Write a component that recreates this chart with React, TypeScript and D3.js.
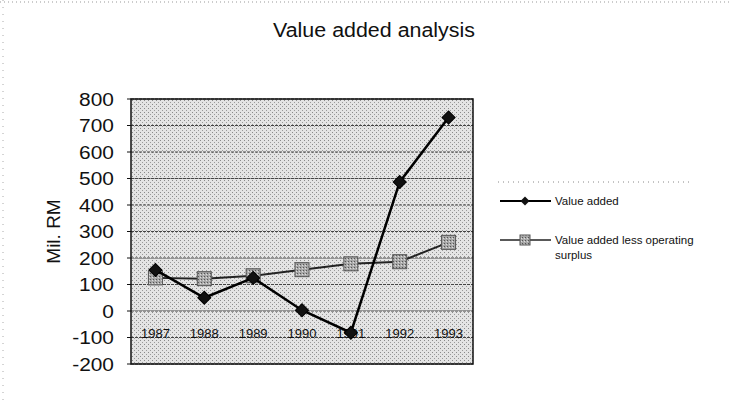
import * as d3 from 'd3'

const years = ['1987', '1988', '1989', '1990', '1991', '1992', '1993']
const valueAdded = [155, 50, 125, 3, -82, 487, 730]
const valueAddedLessSurplus = [125, 122, 133, 156, 178, 186, 259]
const yTicks = [-200, -100, 0, 100, 200, 300, 400, 500, 600, 700, 800]
const seriesNames = ['Value added', 'Value added less operating', 'surplus']

const W = 729
const H = 401
const plot = { left: 131, right: 473, top: 99, bottom: 364 }
const font = '"Liberation Sans", Arial, Helvetica, sans-serif'

const App = () => {
  const x = d3.scaleBand<string>().domain(years).range([plot.left, plot.right])
  const y = d3.scaleLinear().domain([-200, 800]).range([plot.bottom, plot.top])
  const cx = (d: string) => (x(d) ?? 0) + x.bandwidth() / 2

  const line = d3
    .line<number>()
    .x((_, i) => cx(years[i]))
    .y((d) => y(d))

  // diamonds in the original are rotated squares
  const diamond = d3.symbol().type(d3.symbolSquare).size(85)()
  const legendDiamond = d3.symbol().type(d3.symbolSquare).size(40)()
  const labelX = plot.left - 17

  return (
    <div style={{ position: 'absolute', left: 0, top: 0 }}>
      <svg width={W} height={H} style={{ display: 'block', background: '#fff' }}>
        <defs>
          <pattern id="stipple" width="4" height="4" patternUnits="userSpaceOnUse">
            <rect width="4" height="4" fill="#e4e4e4" />
            <rect x="0" y="0" width="1" height="1" fill="#8a8a8a" />
            <rect x="2" y="2" width="1" height="1" fill="#9a9a9a" />
          </pattern>
          <pattern id="squareFill" width="3" height="3" patternUnits="userSpaceOnUse">
            <rect width="3" height="3" fill="#a8a8a8" />
            <rect x="0" y="0" width="1" height="1" fill="#555" />
            <rect x="2" y="1" width="1" height="1" fill="#ddd" />
          </pattern>
        </defs>

        {/* faint scanned frame */}
        <line x1={0} x2={W} y1={2} y2={2} stroke="#999" strokeDasharray="1 3" />
        <line x1={3} x2={3} y1={0} y2={H} stroke="#aaa" strokeDasharray="1 6" />

        <text
          x={273}
          y={37}
          fontFamily={font}
          fontSize={20}
          fill="#111"
          textLength={202}
          lengthAdjust="spacingAndGlyphs"
        >
          Value added analysis
        </text>

        {/* plot area */}
        <rect
          x={plot.left}
          y={plot.top}
          width={plot.right - plot.left}
          height={plot.bottom - plot.top}
          fill="url(#stipple)"
        />
        {yTicks.map((t) => (
          <line
            key={'g' + t}
            x1={plot.left}
            x2={plot.right}
            y1={y(t)}
            y2={y(t)}
            stroke="#444"
            strokeWidth={1}
            strokeDasharray="3 1"
          />
        ))}
        <rect
          x={plot.left}
          y={plot.top}
          width={plot.right - plot.left}
          height={plot.bottom - plot.top}
          fill="none"
          stroke="#111"
          strokeWidth={1.5}
        />

        {/* y axis */}
        {yTicks.map((t) => (
          <g key={'t' + t}>
            <line x1={plot.left - 4} x2={plot.left} y1={y(t)} y2={y(t)} stroke="#111" />
            <text
              x={labelX}
              y={y(t)}
              dy="0.36em"
              textAnchor="end"
              fontFamily={font}
              fontSize={19}
              fill="#111"
              transform={`translate(${labelX},0) scale(1.1,1) translate(${-labelX},0)`}
            >
              {t}
            </text>
          </g>
        ))}
        <text
          transform={`translate(60,${y(300)}) rotate(-90)`}
          textAnchor="middle"
          fontFamily={font}
          fontSize={19}
          fill="#111"
        >
          Mil. RM
        </text>

        {/* category axis at zero */}
        {years.map((d) => (
          <text
            key={'c' + d}
            x={cx(d)}
            y={y(0) + 27}
            textAnchor="middle"
            fontFamily={font}
            fontSize={13}
            fill="#111"
          >
            {d}
          </text>
        ))}

        {/* value added less operating surplus */}
        <path d={line(valueAddedLessSurplus) ?? ''} fill="none" stroke="#222" strokeWidth={2} />
        {valueAddedLessSurplus.map((v, i) => (
          <rect
            key={'s' + i}
            x={cx(years[i]) - 7}
            y={y(v) - 7}
            width={14}
            height={14}
            fill="url(#squareFill)"
            stroke="#555"
            strokeWidth={1}
          />
        ))}

        {/* value added */}
        <path d={line(valueAdded) ?? ''} fill="none" stroke="#000" strokeWidth={2.5} />
        {valueAdded.map((v, i) => (
          <path
            key={'d' + i}
            d={diamond ?? ''}
            transform={`translate(${cx(years[i])},${y(v)}) rotate(45)`}
            fill="#111"
            stroke="#000"
          />
        ))}

        {/* legend */}
        <line x1={498} x2={690} y1={182} y2={182} stroke="#888" strokeDasharray="1 4" />
        <line x1={500} x2={551} y1={201} y2={201} stroke="#000" strokeWidth={2} />
        <path d={legendDiamond ?? ''} transform="translate(525,201) rotate(45)" fill="#111" />
        <text x={555} y={205} fontFamily={font} fontSize={11.5} fill="#111">
          {seriesNames[0]}
        </text>
        <line x1={500} x2={551} y1={240} y2={240} stroke="#222" strokeWidth={1.5} />
        <rect x={520} y={235} width={10} height={10} fill="url(#squareFill)" stroke="#555" />
        <text x={555} y={244} fontFamily={font} fontSize={11.5} fill="#111">
          {seriesNames[1]}
        </text>
        <text x={555} y={259} fontFamily={font} fontSize={11.5} fill="#111">
          {seriesNames[2]}
        </text>
      </svg>
    </div>
  )
}

export default App
